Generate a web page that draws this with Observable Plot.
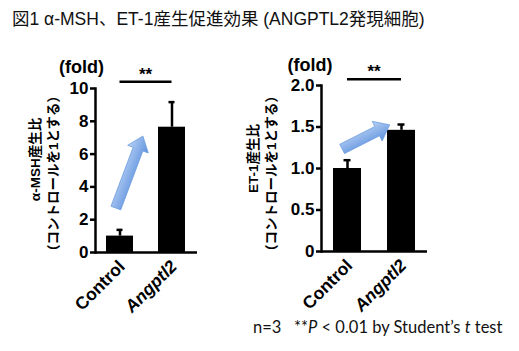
<!DOCTYPE html>
<html><head><meta charset="utf-8">
<script src="https://cdn.jsdelivr.net/npm/d3@7"></script>
<script src="https://cdn.jsdelivr.net/npm/@observablehq/plot@0.6"></script>
<style>
body{margin:0;background:#fff;}
#wrap{position:relative;width:519px;height:351px;overflow:hidden;background:#fff;font-family:"Liberation Sans",Arial,"Noto Sans CJK JP",sans-serif;}
#title{position:absolute;left:12px;top:5px;font-size:17.5px;white-space:nowrap;color:#111;}
#foot{position:absolute;left:253px;top:317px;font-family:Lato,"Open Sans",sans-serif;font-size:16.5px;white-space:nowrap;color:#111;}
.chart{position:absolute;top:0;}
</style></head><body>
<div id="wrap">
 <div id="title">図1 α-MSH、ET-1産生促進効果 (ANGPTL2発現細胞)</div>
 <div id="left" class="chart" style="left:0px"></div>
 <div id="right" class="chart" style="left:260px"></div>
 <div id="foot">n=3&nbsp;&nbsp;&nbsp;**<i>P</i> &lt; 0.01 by Student’s <i>t</i> test</div>
</div>
<script>
const categories = ["Control", "Angptl2"];
const mshMean = [1.0, 7.64];
const mshError = [0.38, 1.53];
const et1Mean = [1.0, 1.46];
const et1Error = [0.1, 0.07];
const mshTicks = [0, 2, 4, 6, 8, 10];
const et1Ticks = [0, 0.5, 1.0, 1.5, 2.0];
const mshTickLabels = ["0", "2", "4", "6", "8", "10"];
const et1TickLabels = ["0", "0.5", "1.0", "1.5", "2.0"];
const mshLabel = ["α-MSH産生比", "（コントロールを1とする）"];
const et1Label = ["ET-1産生比", "（コントロールを1とする）"];
const unitLabel = "(fold)";
const sigLabel = "**";
// arrow annotations: position p along Control→Angptl2 (0 = Control, 1 = Angptl2), value v
const mshArrow = {from: "Control", to: "Angptl2", p: [-0.07, 0.45], v: [2.68, 7.07]};
const et1Arrow = {from: "Control", to: "Angptl2", p: [-0.09, 0.79], v: [1.23, 1.52]};
const mshSig = {from: "Control", to: "Angptl2", v: 10.38};
const et1Sig = {from: "Control", to: "Angptl2", v: 2.07};

const FONT = '"Liberation Sans", Arial, "Noto Sans CJK JP", sans-serif';

function blockArrow(spec, gid) {
  return (index, scales) => {
    const x = scales.x, y = scales.y;
    const bw = x.bandwidth();
    const cx = c => x(c) + bw / 2;
    const pos = p => cx(spec.from) + p * (cx(spec.to) - cx(spec.from));
    const x1 = pos(spec.p[0]), y1 = y(spec.v[0]), x2 = pos(spec.p[1]), y2 = y(spec.v[1]);
    const dx = x2 - x1, dy = y2 - y1, L = Math.hypot(dx, dy);
    const ux = dx / L, uy = dy / L, nx = -uy, ny = ux;
    const w = 5.2, hw = 11, hl = 14;
    const bx = x2 - ux * hl, by = y2 - uy * hl;
    const pts = [
      [x1 + nx * w, y1 + ny * w], [bx + nx * w, by + ny * w], [bx + nx * hw, by + ny * hw],
      [x2, y2], [bx - nx * hw, by - ny * hw], [bx - nx * w, by - ny * w], [x1 - nx * w, y1 - ny * w]
    ];
    const g = d3.create("svg:g");
    const grad = g.append("defs").append("linearGradient").attr("id", gid)
      .attr("gradientUnits", "userSpaceOnUse")
      .attr("x1", x1 - nx * hw).attr("y1", y1 - ny * hw)
      .attr("x2", x1 + nx * hw).attr("y2", y1 + ny * hw);
    grad.append("stop").attr("offset", "0%").attr("stop-color", "#b7d0f4");
    grad.append("stop").attr("offset", "100%").attr("stop-color", "#5e92de");
    g.append("path").attr("d", "M" + pts.map(p => p.join(",")).join("L") + "Z")
      .attr("fill", `url(#${gid})`).attr("stroke", "#6f9de0").attr("stroke-width", 0.8);
    return g.node();
  };
}

function sigMark(spec) {
  return (index, scales) => {
    const x = scales.x, y = scales.y;
    const bw = x.bandwidth();
    const a = x(spec.from) + bw / 2, b = x(spec.to) + bw / 2, yy = y(spec.v);
    const g = d3.create("svg:g");
    g.append("line").attr("x1", a).attr("x2", b).attr("y1", yy).attr("y2", yy)
      .attr("stroke", "#000").attr("stroke-width", 2.5);
    g.append("text").attr("x", (a + b) / 2).attr("y", yy - 2).attr("text-anchor", "middle")
      .attr("font-size", 17).attr("font-weight", "bold").attr("font-family", FONT).text(sigLabel);
    return g.node();
  };
}

function chart(o) {
  const rows = categories.map((c, i) => ({cat: c, mean: o.mean[i], top: o.mean[i] + o.err[i]}));
  return Plot.plot({
    width: o.width, height: 351,
    marginLeft: o.ml, marginRight: o.mr, marginTop: o.mt, marginBottom: o.mb,
    style: {background: "transparent", color: "#000", fontFamily: FONT, overflow: "visible"},
    x: {domain: categories, paddingInner: 0.48, paddingOuter: 0.22, axis: null},
    y: {domain: o.domain, axis: null, label: null},
    marks: [
      Plot.ruleX(rows, {x: "cat", y1: "mean", y2: "top", strokeWidth: 2.5}),
      Plot.tickY(rows, {x: "cat", y: "top", strokeWidth: 2.5, insetLeft: 10.5, insetRight: 10.5}),
      Plot.barY(rows, {x: "cat", y: "mean", fill: "#000"}),
      Plot.axisY({ticks: o.ticks, tickFormat: (d) => o.tickLabels[o.ticks.indexOf(d)], label: null,
        tickSize: 5, tickPadding: 2, strokeWidth: 2.5, fontSize: 17, fontWeight: "bold"}),
      Plot.frame({anchor: "left", strokeWidth: 2.5}),
      Plot.ruleY([0], {strokeWidth: 2.5}),
      Plot.text(categories.filter(c => c === "Control"), {x: d => d, frameAnchor: "bottom", rotate: -45,
        textAnchor: "end", dx: 6, dy: 15, fontSize: 17.5, fontWeight: "bold"}),
      Plot.text(categories.filter(c => c === "Angptl2"), {x: d => d, frameAnchor: "bottom", rotate: -45,
        textAnchor: "end", dx: 6, dy: 15, fontSize: 17.5, fontWeight: "bold", fontStyle: "italic"}),
      Plot.text([o.label[0]], {frameAnchor: "left", textAnchor: "middle", lineAnchor: "middle", rotate: -90, dx: o.l1[0], dy: o.l1[1], fontSize: 13.5, fontWeight: "bold", text: d => d}),
      Plot.text([o.label[1]], {frameAnchor: "left", textAnchor: "middle", lineAnchor: "middle", rotate: -90, dx: o.l2[0], dy: o.l2[1], fontSize: 13.5, fontWeight: "bold", text: d => d}),
      Plot.text([unitLabel], {frameAnchor: "top-left", textAnchor: "middle", lineAnchor: "middle", dx: o.fold[0], dy: o.fold[1], fontSize: 18, fontWeight: "bold", text: d => d}),
      sigMark(o.sig),
      blockArrow(o.arrow, o.gid)
    ]
  });
}

document.getElementById("left").append(chart({
  width: 260, ml: 95, mr: 63, mt: 88, mb: 99,
  mean: mshMean, err: mshError, domain: [0, 10], ticks: mshTicks, tickLabels: mshTickLabels,
  label: mshLabel, l1: [-60, -11], l2: [-42, 3], fold: [-14, -21],
  arrow: mshArrow, sig: mshSig, gid: "gradL"
}));
document.getElementById("right").append(chart({
  width: 259, ml: 61, mr: 92, mt: 85, mb: 100,
  mean: et1Mean, err: et1Error, domain: [0, 2], ticks: et1Ticks, tickLabels: et1TickLabels,
  label: et1Label, l1: [-68, -10], l2: [-50, 5], fold: [-11.5, -20],
  arrow: et1Arrow, sig: et1Sig, gid: "gradR"
}));
</script>
</body></html>
